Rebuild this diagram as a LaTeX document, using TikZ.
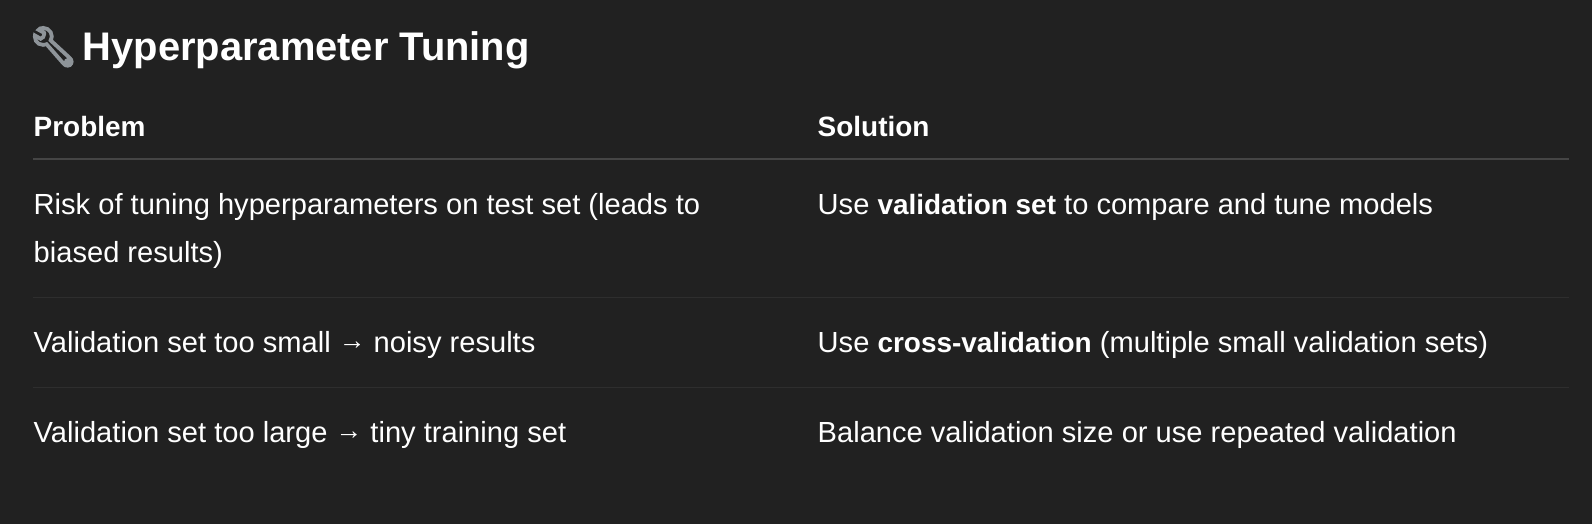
\documentclass[tikz,border=0pt]{standalone}
\usepackage{fontspec}
\setmainfont{Liberation Sans}
\newfontfamily\emojifont[FakeBold=6]{Noto Emoji}
\definecolor{panel}{HTML}{212121}
\definecolor{headrule}{HTML}{454545}
\definecolor{rowrule}{HTML}{2E2E2E}
\definecolor{wrench}{HTML}{8E9499}
\newcommand{\bodysize}{\fontsize{8.28}{13.65}\selectfont}
\newcommand{\boldsize}{\fontsize{7.95}{13.65}\selectfont\bfseries}
\newcommand{\toarrow}{\raisebox{0.75pt}{\fontsize{7.6}{10}\selectfont →}}
\usetikzlibrary{positioning}

\begin{document}
\begin{tikzpicture}[
  title node/.style={anchor=base west,inner sep=0pt,text=white,font=\fontsize{11.35}{13}\selectfont\bfseries},
  head node/.style={anchor=base west,inner sep=0pt,text=white,font=\boldsize},
  cell node/.style={anchor=base west,inner sep=0pt,text=white,font=\bodysize,align=left},
  head line/.style={draw=headrule,line width=0.45pt},
  row line/.style={draw=rowrule,line width=0.4pt}]
  \useasboundingbox (0,0) rectangle (15.92,5.24);
  \fill[panel] (0,0) rectangle (15.92,5.24);
  \node[title node,text=wrench] (icon) at (0.28,4.64) {\emojifont\fontsize{11}{13}\selectfont 🔧};
  \node[title node]  (title) at (0.82,4.64)  {Hyperparameter Tuning};
  \node[head node]   (h1) at (0.33,3.88)     {Problem};
  \node[head node]   (h2) at (8.17,3.88)     {Solution};
  \node[cell node]   (p1) at (0.33,3.10)     {Risk of tuning hyperparameters on test set (leads to};
  \node[cell node]   (p1b) at (0.33,2.62)    {biased results)};
  \node[cell node]   (s1) at (8.17,3.10)     {Use {\boldsize validation set} to compare and tune models};
  \node[cell node]   (p2) at (0.33,1.72)     {Validation set too small \toarrow{} noisy results};
  \node[cell node]   (s2) at (8.17,1.72)     {Use {\boldsize cross-validation} (multiple small validation sets)};
  \node[cell node]   (p3) at (0.33,0.82)     {Validation set too large \toarrow{} tiny training set};
  \node[cell node]   (s3) at (8.17,0.82)     {Balance validation size or use repeated validation};
  \coordinate (l0) at (0.33,3.65);
  \coordinate (r0) at (15.69,3.65);
  \coordinate (l1) at (0.33,2.265);
  \coordinate (r1) at (15.69,2.265);
  \coordinate (l2) at (0.33,1.365);
  \coordinate (r2) at (15.69,1.365);
  \draw[head line] (l0) -- (r0);
  \draw[row line] (l1) -- (r1);
  \draw[row line] (l2) -- (r2);
\end{tikzpicture}
\end{document}
